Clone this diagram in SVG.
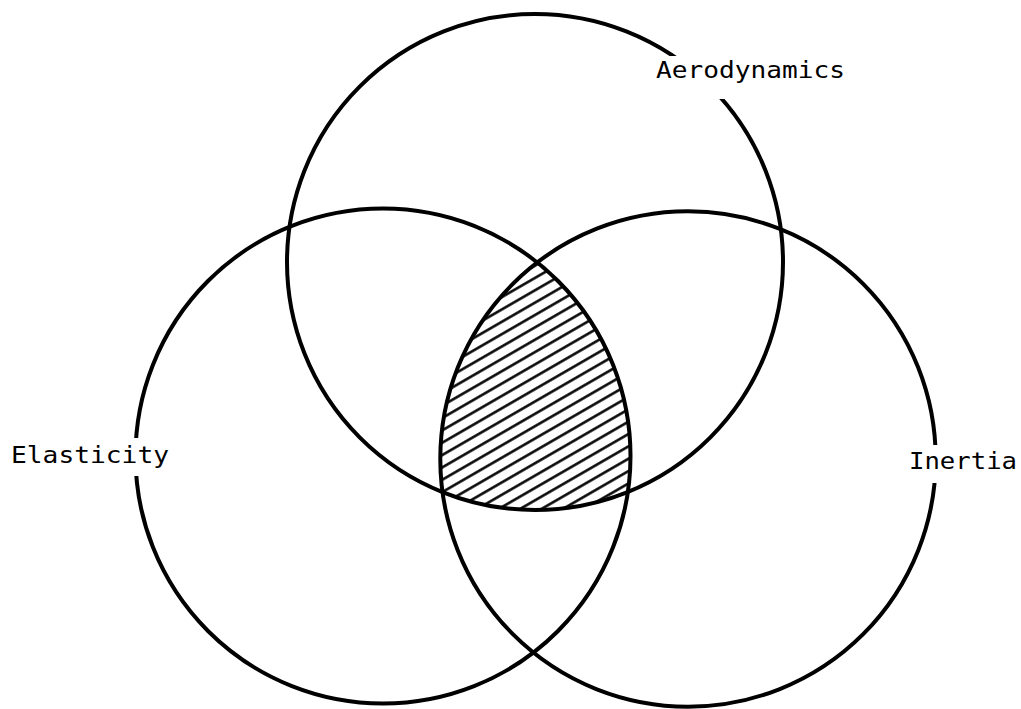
<svg xmlns="http://www.w3.org/2000/svg" width="1021" height="709" viewBox="0 0 1021 709">
  <style>
    .ring { fill: none; stroke: #000; stroke-width: 4; }
    .lbl { font-family: "DejaVu Sans Mono", "Liberation Mono", monospace; font-size: 23px; fill: #000; }
    .mask { fill: #fff; stroke: none; }
  </style>
  <defs>
    <pattern id="hatch" patternUnits="userSpaceOnUse" width="24" height="10.7" patternTransform="rotate(-30)">
      <line x1="-2" y1="5.3" x2="26" y2="5.3" stroke="#000" stroke-width="2.5"/>
    </pattern>
    <clipPath id="clipLeft"><circle cx="383" cy="456" r="247.5"/></clipPath>
    <clipPath id="clipRight"><circle cx="688" cy="459" r="247.7"/></clipPath>
  </defs>
  <rect width="1021" height="709" fill="#fff"/>

  <g id="overlap-hatch" clip-path="url(#clipLeft)">
    <circle cx="535" cy="262" r="248" fill="url(#hatch)" clip-path="url(#clipRight)"/>
  </g>

  <g id="connectors"></g>

  <g id="aerodynamics">
    <circle class="ring" cx="535" cy="262" r="248"/>
  </g>
  <g id="elasticity">
    <circle class="ring" cx="383" cy="456" r="247.5"/>
  </g>
  <g id="inertia">
    <circle class="ring" cx="688" cy="459" r="247.7"/>
  </g>

  <g id="label-aerodynamics">
    <rect class="mask" x="652" y="56" width="196" height="43"/>
    <text class="lbl" x="656" y="78" textLength="189" lengthAdjust="spacingAndGlyphs">Aerodynamics</text>
  </g>
  <g id="label-elasticity">
    <rect class="mask" x="8" y="438" width="164" height="38"/>
    <text class="lbl" x="11" y="463" textLength="158" lengthAdjust="spacingAndGlyphs">Elasticity</text>
  </g>
  <g id="label-inertia">
    <rect class="mask" x="905" y="445" width="116" height="38"/>
    <text class="lbl" x="909" y="469" textLength="108" lengthAdjust="spacingAndGlyphs">Inertia</text>
  </g>
</svg>
